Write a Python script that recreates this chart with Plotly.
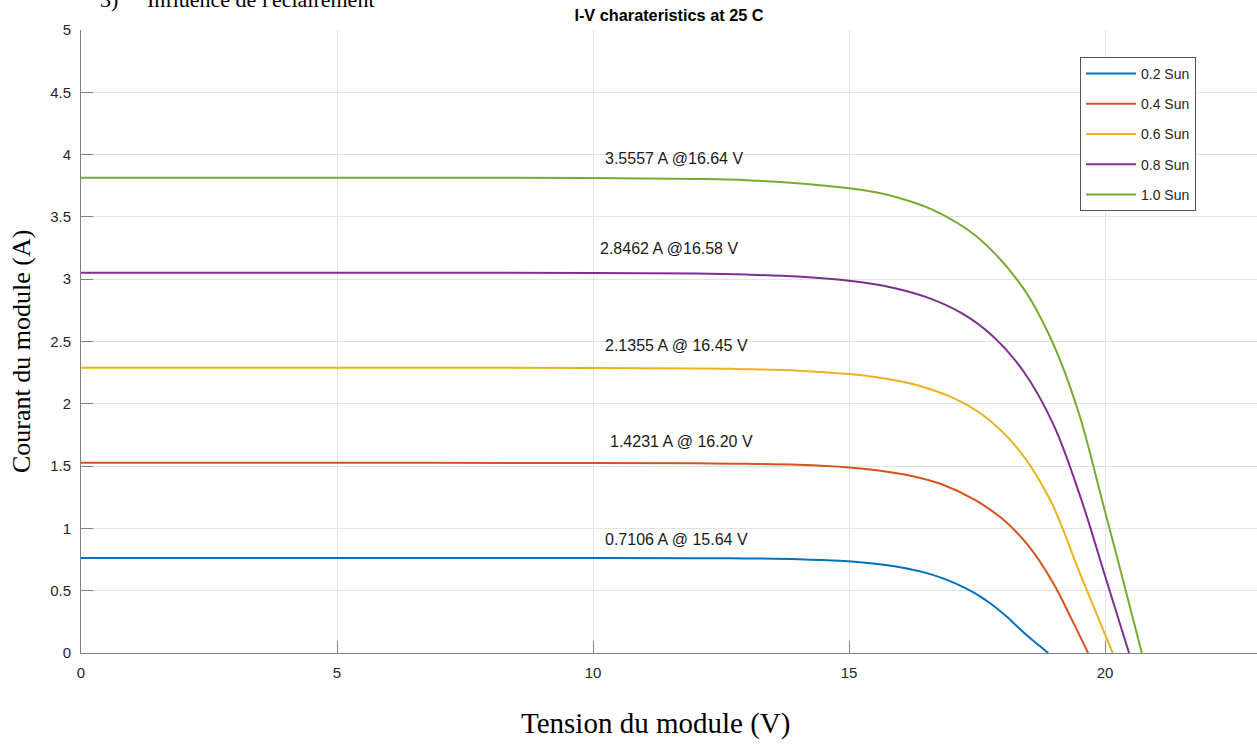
import plotly.graph_objects as go

# ---- data ----
labels = ["0.2 Sun", "0.4 Sun", "0.6 Sun", "0.8 Sun", "1.0 Sun"]
colors = ["#0072BD", "#D95319", "#EDB120", "#7E2F8E", "#77AC30"]

v_02 = [0, 5, 10, 12, 13, 14, 14.82, 15.64, 16.13, 16.5, 16.78, 17.1, 17.43, 17.75, 18.08, 18.3, 18.53, 18.72, 18.89]
i_02 = [0.763, 0.763, 0.762, 0.761, 0.759, 0.753, 0.740, 0.7106, 0.679, 0.643, 0.607, 0.555, 0.486, 0.401, 0.292, 0.207, 0.122, 0.058, 0.0]

v_04 = [0, 5, 10, 12, 13, 14, 15, 15.5, 16.2, 16.8, 17.46, 18.0, 18.5, 18.99, 19.35, 19.67]
i_04 = [1.526, 1.526, 1.525, 1.522, 1.518, 1.510, 1.489, 1.469, 1.4231, 1.356, 1.228, 1.075, 0.863, 0.560, 0.270, 0.0]

v_06 = [0, 5, 10, 12, 13, 14, 15, 15.5, 16.0, 16.45, 17.0, 17.6, 18.3, 18.93, 19.5, 20.15]
i_06 = [2.289, 2.289, 2.288, 2.284, 2.278, 2.266, 2.239, 2.216, 2.181, 2.1355, 2.054, 1.914, 1.639, 1.228, 0.650, 0.0]

v_08 = [0, 5, 10, 12, 13, 14, 15, 15.5, 16.0, 16.58, 17.2, 17.8, 18.4, 19.0, 19.54, 20.0, 20.47]
i_08 = [3.052, 3.052, 3.050, 3.045, 3.037, 3.021, 2.988, 2.959, 2.918, 2.8462, 2.727, 2.546, 2.265, 1.827, 1.228, 0.620, 0.0]

v_10 = [0, 5, 10, 12, 13, 14, 15, 15.5, 16.0, 16.64, 17.5, 18.4, 19.0, 19.5, 19.94, 20.33, 20.72]
i_10 = [3.815, 3.815, 3.813, 3.805, 3.795, 3.770, 3.730, 3.700, 3.650, 3.5557, 3.340, 2.930, 2.470, 1.910, 1.230, 0.620, 0.0]

volts = [v_02, v_04, v_06, v_08, v_10]
amps = [i_02, i_04, i_06, i_08, i_10]

mpp_text = ["0.7106 A @ 15.64 V", "1.4231 A @ 16.20 V", "2.1355 A @ 16.45 V",
            "2.8462 A @16.58 V", "3.5557 A @16.64 V"]
mpp_text_x = [10.2, 10.3, 10.2, 10.1, 10.2]
mpp_text_y = [0.907, 1.70, 2.47, 3.25, 3.97]

x_ticks = [0, 5, 10, 15, 20]
y_ticks = [0, 0.5, 1, 1.5, 2, 2.5, 3, 3.5, 4, 4.5, 5]

# ---- figure ----
W, H = 1257, 745
L, R, T, B = 81, 0, 30, 92
pw, ph = W - L - R, H - T - B

fig = go.Figure()
for k in range(5):
    fig.add_trace(go.Scatter(
        x=volts[k], y=amps[k], mode="lines", name=labels[k],
        legendgroup=labels[k],
        line=dict(color=colors[k], width=2, shape="spline", smoothing=1.0),
    ))

sans = "Liberation Sans, Arial, sans-serif"
serif = "Liberation Serif, Times New Roman, serif"

for k in range(5):
    fig.add_annotation(x=mpp_text_x[k], y=mpp_text_y[k], xref="x", yref="y",
                       text=mpp_text[k], showarrow=False, xanchor="left", yanchor="middle",
                       font=dict(family=sans, size=16, color="#1a1a1a"))

def px_x(p):
    return (p - L) / pw

def px_y(p):
    return (H - B - p) / ph

# axis titles and cropped heading
fig.add_annotation(x=px_x(655), y=px_y(723), xref="paper", yref="paper",
                   text="Tension du module (V)", showarrow=False,
                   xanchor="center", yanchor="middle",
                   font=dict(family=serif, size=29, color="black"))
fig.add_annotation(x=px_x(22), y=px_y(352), xref="paper", yref="paper",
                   text="Courant du module (A)", showarrow=False, textangle=-90,
                   xanchor="center", yanchor="middle",
                   font=dict(family=serif, size=26, color="black"))
fig.add_annotation(x=px_x(98), y=px_y(14), xref="paper", yref="paper",
                   text="3)", showarrow=False,
                   xanchor="left", yanchor="bottom",
                   font=dict(family=serif, size=22, color="black"))
fig.add_annotation(x=px_x(145), y=px_y(14), xref="paper", yref="paper",
                   text="Influence de l'éclairement", showarrow=False,
                   xanchor="left", yanchor="bottom",
                   font=dict(family=serif, size=22, color="black"))

axis_common = dict(
    showline=True, linecolor="#808080", linewidth=1,
    ticks="inside", ticklen=12, tickcolor="#808080", tickwidth=1,
    showgrid=True, gridcolor="#e3e3e3", gridwidth=1,
    zeroline=False, tickfont=dict(family=sans, size=15, color="#262626"),
    automargin=False,
)

fig.update_layout(
    width=W, height=H,
    margin=dict(l=L, r=R, t=T, b=B),
    paper_bgcolor="white", plot_bgcolor="white",
    title=dict(text="<b>I-V charateristics at 25 C</b>", x=0.5, xref="paper",
               y=1 - 15 / H, yanchor="middle", xanchor="center",
               font=dict(family=sans, size=16.3, color="black")),
    xaxis=dict(range=[0, (W - L - R) / 51.2], tickvals=x_ticks, ticklabelstandoff=6, **axis_common),
    yaxis=dict(range=[0, 5], tickvals=y_ticks, ticklabelstandoff=6, **axis_common),
    xaxis2=dict(range=[0, (W - L - R) / 51.2], overlaying="x", side="top", anchor="y",
                tickvals=x_ticks, showticklabels=False, showgrid=False, showline=True,
                linecolor="#808080", ticks="inside", ticklen=12, tickcolor="#808080",
                zeroline=False),
    showlegend=True,
    legend=dict(x=px_x(1080), y=px_y(57), xanchor="left", yanchor="top",
                bgcolor="white", bordercolor="#555555", borderwidth=1,
                font=dict(family=sans, size=14, color="#262626"),
                itemwidth=50, tracegroupgap=9, traceorder="grouped"),
)

fig.write_html("out.html")
